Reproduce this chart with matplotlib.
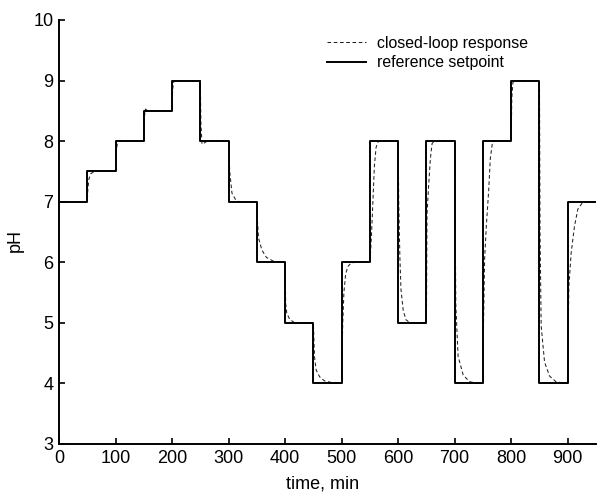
#!/usr/bin/env python3
import numpy as np
import matplotlib
matplotlib.use("Agg")
import matplotlib.pyplot as plt

plt.rcParams['font.family'] = ['Liberation Sans', 'DejaVu Sans']

# reference setpoint, one value per 50 min interval
step_times = [0, 50, 100, 150, 200, 250, 300, 350, 400, 450, 500,
              550, 600, 650, 700, 750, 800, 850, 900, 950]
setpoint_ph = [7, 7.5, 8, 8.5, 9, 8, 7, 6, 5, 4, 6,
               8, 5, 8, 4, 8, 9, 4, 7]

# closed-loop pH response (time in min, pH)
response_t = [0, 50, 51, 53, 56, 62,
              100, 101, 103, 107,
              150, 151, 153, 157,
              200, 201, 203, 207,
              250, 251, 253, 257, 262,
              300, 302, 306, 312, 318,
              350, 351, 353, 359, 367, 379, 390,
              400, 401, 403, 408, 417,
              450, 452, 455, 461, 470, 480, 490,
              500, 501, 502, 504, 507, 511, 517, 525,
              550, 552, 553.5, 556, 558, 561, 565,
              600, 601, 603, 605, 609, 614, 621,
              650, 651, 654, 657, 660, 664,
              700, 701, 702, 706, 715, 726, 740,
              750, 751, 753, 756, 760, 763, 767, 772,
              800, 801, 803, 807,
              850, 851, 853, 859, 868, 879, 895,
              900, 901, 902, 906, 912, 918, 925, 932, 950]
response_ph = [7, 7, 7.2, 7.38, 7.46, 7.5,
               7.5, 7.8, 7.95, 8.0,
               8.0, 8.4, 8.53, 8.5,
               8.5, 8.85, 8.98, 9.0,
               9.0, 8.3, 7.95, 7.97, 8.0,
               8.0, 7.5, 7.14, 7.04, 7.0,
               7.0, 6.7, 6.4, 6.2, 6.08, 6.02, 6.0,
               6.0, 5.32, 5.16, 5.06, 5.0,
               5.0, 4.44, 4.22, 4.11, 4.04, 4.02, 4.0,
               4.0, 4.6, 5.0, 5.5, 5.8, 5.93, 5.99, 6.0,
               6.0, 6.3, 6.6, 7.15, 7.6, 7.9, 8.0,
               8.0, 7.0, 6.1, 5.55, 5.2, 5.05, 5.0,
               5.0, 6.78, 7.28, 7.71, 7.96, 8.0,
               8.0, 6.5, 5.3, 4.45, 4.14, 4.03, 4.0,
               4.0, 5.0, 6.06, 6.61, 7.16, 7.71, 7.99, 8.0,
               8.0, 8.7, 8.97, 9.0,
               9.0, 6.5, 4.95, 4.35, 4.12, 4.03, 4.0,
               4.0, 5.0, 5.6, 6.15, 6.6, 6.88, 6.97, 7.0, 7.0]

fig = plt.figure(figsize=(5.97, 4.93), dpi=100)
ax = fig.add_axes([59 / 597, 49 / 493, 537 / 597, 424 / 493])

ax.plot(response_t, response_ph, color='#222222', linestyle=(0, (3.5, 2.5)),
        linewidth=0.75, label='closed-loop response')
ax.step(step_times, setpoint_ph + [setpoint_ph[-1]], where='post',
        color='black', linewidth=1.4, label='reference setpoint')

ax.set_xlim(0, 950)
ax.set_ylim(3, 10)
ax.set_xticks(np.arange(0, 901, 100))
ax.set_yticks(np.arange(3, 11, 1))
ax.tick_params(direction='in', length=4, width=1.2, labelsize=13,
               colors='black', pad=4)
for side in ['top', 'right']:
    ax.spines[side].set_visible(False)
for side in ['left', 'bottom']:
    ax.spines[side].set_linewidth(1.4)

ax.set_xlabel('time, min', fontsize=13)
ax.set_ylabel('pH', fontsize=13)
ax.xaxis.set_label_coords(0.49, -0.075)
ax.yaxis.set_label_coords(-0.066, 0.48)

ax.legend(loc='upper left', bbox_to_anchor=(0.499, 0.963), frameon=False,
          fontsize=11.4, handlelength=2.45, handletextpad=0.7,
          borderpad=0, borderaxespad=0, labelspacing=0.3)

fig.savefig('out.png', dpi=100)
